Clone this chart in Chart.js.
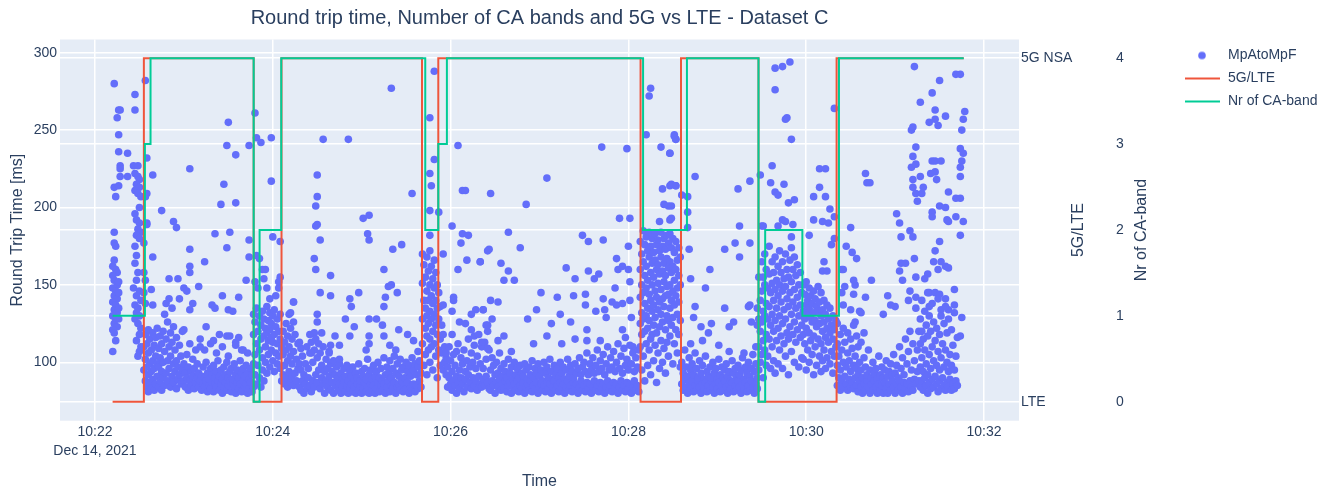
<!DOCTYPE html>
<html>
<head>
<meta charset="utf-8">
<title>Round trip time - Dataset C</title>
<script src="https://cdn.jsdelivr.net/npm/chart.js@4.4.1/dist/chart.umd.min.js"></script>
<style>
  html, body { margin: 0; padding: 0; background: #fff; }
</style>
</head>
<body>
<canvas id="rttChart" width="1336" height="493"></canvas>
<script>
// time axis: seconds after 10:22:00 (Dec 14, 2021)
const xTickValues = [0, 120, 240, 360, 480, 600];
const xTickLabels = ['10:22', '10:24', '10:26', '10:28', '10:30', '10:32'];
const xTickDate = 'Dec 14, 2021';
const rttTicks = [100, 150, 200, 250, 300];
const netTicks = [0, 1];
const netLabels = ['LTE', '5G NSA'];
const caTicks = [0, 1, 2, 3, 4];
const seriesNames = ['MpAtoMpF', '5G/LTE', 'Nr of CA-band'];

// 5G/LTE state changes (0 = LTE, 1 = 5G NSA)
const netTimes = [11.9, 33.0, 107.1, 125.9, 220.7, 231.7, 368.2, 395.5, 447.8, 500.5, 586.3];
const netValues = [0, 1, 0, 1, 0, 1, 0, 1, 0, 1, 1];

// number of CA bands changes
const caTimes = [11.9, 33.7, 37.5, 107.1, 111.1, 125.7, 222.9, 231.7, 237.5, 369.9, 399.5, 447.8, 452.3, 477.4, 502.1, 586.3];
const caValues = [1, 3, 4, 0, 2, 4, 2, 3, 4, 2, 4, 0, 2, 1, 4, 4];

// [seconds, round trip time ms]
const rttSamples = [
  [13,280],[16,263],[17,263],[15,258],[16,247],[16,236],[22,235],[17,227],[17,225],[17,220],[22,220],[13,213],[16,214],[14,207],[13,184],[13,177],[14,175],[13,166],[12,162],[14,160],[15,158],[12,156],[13,153],[15,150],[12,148],[14,146],[13,143],[15,141],[12,139],[14,137],[13,134],[15,132],[12,130],[14,128],[13,125],[15,123],[12,121],[13,119],[14,114],[12,107],[16,152],[16,145],[16,135],[16,128],
  [27,273],[27,263],[26,227],[29,227],[27,222],[29,220],[30,218],[28,215],[30,213],[27,211],[29,209],[31,207],[30,200],[27,196],[28,192],[30,190],[29,186],[31,184],[28,182],[30,180],[27,175],[28,169],[27,164],[29,158],[28,153],[26,148],[30,146],[28,143],[31,140],[27,137],[29,135],[28,132],[30,130],[27,128],[29,125],[31,122],[30,118],[28,114],[31,110],[30,107],[29,104],
  [34,282],[35,232],[34,207],[35,209],[35,190],[35,189],[33,177],[33,158],[34,153],[33,145],[34,138],
  [33,95],[33,110],[34,88],[34,102],[34,118],[35,84],[35,97],[35,112],[36,81],[36,92],[36,106],[36,121],[37,87],[37,99],[37,115],[38,83],[38,94],[38,108],[39,89],[39,101],[39,119],[40,82],[40,96],[40,111],[41,86],[41,104],[41,116],[42,91],[42,99],[42,122],[43,84],[43,97],[43,109],[44,88],[44,103],[44,117],[45,82],[45,94],[45,112],[46,90],[46,100],[46,120],[47,85],[47,107],[47,131],[48,93],[48,115],[48,138],[49,88],[49,101],[49,126],[50,96],[50,110],[50,141],[51,84],[51,104],[51,119],[52,91],[52,113],[52,135],[53,87],[53,99],[53,123],[54,94],[54,108],[55,83],[55,101],[55,116],[56,89],[56,97],[57,92],[57,111],[58,86],[58,104],[59,95],[59,120],[60,88],[60,99],
  [61,84],[61,93],[62,90],[62,105],[63,82],[63,97],[64,88],[64,112],[65,85],[65,94],[66,91],[66,102],[67,83],[67,96],[68,87],[68,108],[69,90],[69,99],[70,84],[70,93],[71,88],[71,115],
  [72,82],[72,91],[73,86],[73,97],[74,84],[74,90],[75,88],[75,100],[76,81],[76,93],[77,85],[77,89],[78,83],[78,96],[79,87],[79,92],[80,81],[80,98],[81,86],[81,90],[82,84],[82,94],[83,88],[83,101],[84,82],[84,91],[85,86],[85,95],[86,80],[86,89],[87,84],[87,97],[88,87],[88,92],[89,82],[89,100],[90,85],[90,90],[91,88],[91,94],[92,81],[92,96],[93,86],[93,89],[94,84],[94,99],[95,80],[95,92],[96,87],[96,95],[97,83],[97,90],[98,86],[98,101],[99,81],[99,93],[100,88],[100,96],[101,84],[101,91],[102,86],[102,98],[103,80],[103,93],[104,83],[104,89],[105,87],[105,96],[106,81],[106,92],[107,84],[107,99],
  [74,108],[78,112],[82,106],[86,110],[90,104],[95,113],[99,108],[103,106],[89,117],[97,116],
  [39,221],[45,198],[53,191],[55,187],[64,225],[64,173],[64,162],[64,158],[74,165],[39,168],[50,154],[56,154],[60,148],[62,146],[70,149],[57,141],[38,147],[39,137],[90,255],[89,240],[95,234],[87,215],[85,202],[95,203],[81,183],[91,184],[89,174],[108,261],[109,245],[104,240],[112,242],[119,245],[119,217],[104,179],[104,168],[109,169],[120,181],[125,178],[115,160],[114,154],[125,155],[124,148],[86,143],[97,142],[90,134],[93,133],[79,137],[81,135],[64,134],[66,138],[75,123],[102,153],[134,139],[131,131],
  [84,118],[91,117],[80,114],[95,111],[100,108],[71,110],[60,121],
  [107,118],[107,131],[108,92],[108,105],[108,126],[109,86],[109,112],[109,135],[110,98],[110,120],[111,90],[111,108],[111,130],[112,84],[112,115],[112,124],[113,95],[113,103],[113,133],[114,88],[114,117],[114,128],[115,100],[115,110],[115,122],[116,93],[116,119],[116,136],[117,105],[117,114],[117,127],[118,97],[118,121],[118,132],[119,108],[119,116],[119,125],[120,101],[120,113],[120,130],[121,94],[121,118],[121,134],[122,106],[122,123],[123,99],[123,112],[123,128],[124,104],[124,120],[125,96],[125,115],[125,131],[126,109],[126,88],
  [110,148],[113,160],[108,152],[111,167],[116,148],[122,143],[124,152],[118,141],
  [200,277],[154,244],[171,244],[150,221],[150,207],[149,201],[150,189],[149,188],[152,179],[148,167],[149,160],[159,156],[152,145],[159,143],[134,139],[172,141],[173,136],[178,145],[169,128],[175,123],[172,117],[162,117],[159,111],[165,111],[181,193],[185,195],[184,183],[185,179],[195,160],[198,149],[200,150],[196,142],[195,136],[204,145],[201,173],[207,176],[214,209],[185,128],[190,128],[194,124],[195,117],[185,117],[211,118],[215,114],[199,111],[203,108],[150,131],[150,126],[145,118],[148,119],[153,119],[139,109],[132,132],[134,126],
  [127,92],[127,105],[127,120],[128,86],[128,98],[128,113],[129,90],[129,108],[129,125],[130,84],[130,101],[130,117],[131,94],[131,110],[132,87],[132,104],[132,122],[133,91],[133,99],[133,115],[134,85],[134,107],[135,93],[135,118],[136,88],[136,102],[137,96],[137,112],[138,84],[138,99],
  [139,82],[139,95],[140,88],[140,104],[141,80],[141,92],[142,86],[142,99],[143,83],[143,110],[144,90],[144,96],[145,85],[145,106],[146,81],[146,113],[147,88],[147,100],[148,84],[148,108],[149,92],[149,115],[150,87],[150,103],[151,95],[151,112],[152,83],[152,106],[153,90],[153,98],[154,86],[154,110],[155,80],[155,94],[156,88],[156,102],[157,84],[157,96],[158,91],[158,107],[159,82],[159,99],[160,87],[160,94],[161,80],[161,101],[162,85],[162,92],[163,88],[163,97],[164,82],[164,90],[165,86],[165,99],[166,80],[166,93],[167,84],[167,89],[168,87],[168,96],[169,81],[169,91],[170,85],[170,98],[171,80],[171,88],[172,83],[172,94],[173,86],[173,91],[174,81],[174,97],[175,84],[175,89],[176,80],[176,93],[177,86],[177,90],[178,82],[178,99],[179,85],[179,88],[180,80],[180,94],[181,83],[181,91],[182,87],[182,96],[183,81],[183,89],[184,84],[184,102],[185,80],[185,92],[186,86],[186,95],[187,82],[187,89],[188,85],[188,98],[189,80],[189,91],[190,83],[190,94],[191,87],[191,100],[192,81],[192,90],[193,85],[193,96],[194,82],[194,88],[195,86],[195,103],[196,80],[196,92],[197,84],[197,97],[198,88],[198,93],[199,81],[199,101],[200,85],[200,90],[201,83],[201,96],[202,87],[202,104],[203,80],[203,93],[204,84],[204,99],[205,86],[205,91],[206,82],[206,102],[207,88],[207,95],[208,81],[208,97],[209,85],[209,90],[210,83],[210,100],[211,87],[211,94],[212,80],[212,98],[213,84],[213,91],[214,82],[214,103],[215,86],[215,95],[216,81],[216,99],[217,85],[217,92],[218,83],[218,97],[219,88],[219,101],[220,84],[220,93],
  [138,113],[146,106],[158,106],[165,102],[183,108],[185,112],[205,121],[218,107],
  [229,288],[226,258],[229,231],[226,222],[227,214],[226,198],[232,197],[226,182],
  [221,170],[222,163],[221,151],[222,140],[221,128],[221,112],[222,98],[223,155],[223,135],[223,122],[223,105],[224,168],[224,146],[224,130],[224,117],[224,92],[225,159],[225,140],[225,125],[225,108],[226,172],[226,150],[226,133],[226,115],[226,100],[227,162],[227,143],[227,128],[227,110],[228,154],[228,138],[228,120],[228,95],[229,166],[229,148],[229,131],[229,112],[230,158],[230,140],[230,124],[230,104],[231,150],[231,135],[231,118],[231,90],[232,145],[232,128],[232,108],[233,136],[233,115],[233,98],[234,124],[234,106],[235,118],[235,95],[236,110],[236,100],[237,103],[237,92],
  [235,170],[245,240],[241,188],[248,211],[250,211],[248,183],[252,182],[247,177],[251,166],[245,160],[260,165],[265,172],[235,137],[242,142],[242,140],[241,133],[257,134],[262,134],[254,131],[246,126],[250,125],[254,121],[265,124],[241,118],[256,117],[262,112],[237,106],[244,107],
  [238,84],[238,97],[239,90],[239,110],[240,86],[240,101],[241,82],[241,94],[242,88],[242,105],[243,85],[243,98],[244,91],[244,80],[245,87],[245,112],[246,83],[246,95],[247,90],[247,103],[248,86],[248,99],[249,81],[249,108],[250,89],[250,94],[251,84],[251,101],[252,92],[252,115],[253,87],[253,97],[254,83],[254,106],[255,90],[255,100],[256,85],[256,111],[257,88],[257,96],[258,82],[258,104],[259,91],[259,118],[260,86],[260,99],[261,84],[261,110],[262,89],[262,96],[263,85],[263,113],[264,91],[264,102],[265,87],[265,120],[266,83],[266,108],
  [375,277],[374,272],[372,247],[391,246],[382,239],[388,235],[392,244],[342,239],[359,238],[305,219],[267,209],[291,202],[354,193],[361,193],[383,212],[388,214],[392,214],[384,202],[387,201],[381,191],[388,192],[279,184],[329,182],[333,178],[343,179],[360,175],[266,173],[287,174],[260,165],[274,164],[279,159],[276,153],[283,153],[318,161],[324,154],[333,159],[337,154],[340,157],[352,167],[353,160],[356,162],[360,160],[361,152],[351,148],[301,145],[312,142],[323,143],[331,144],[343,141],[349,139],[352,137],[356,138],[361,140],[267,140],[272,139],[262,134],[298,134],[314,131],[331,137],[344,134],[338,133],[362,129],[268,128],[264,124],[292,128],[308,125],[321,126],[345,129],[272,114],[276,117],[281,107],[296,112],[305,117],[315,112],[324,115],[332,121],[332,114],[341,114],[356,121],[358,116],[363,110],[261,113],[265,109],
  [267,82],[267,95],[268,88],[268,103],[269,85],[269,98],[270,80],[270,92],[271,87],[271,100],[272,84],[272,93],[273,89],[273,106],[274,82],[274,96],[275,86],[275,91],[276,83],[276,99],[277,88],[277,94],[278,81],[278,90],[279,85],[279,102],[280,87],[280,93],[281,80],[281,97],[282,84],[282,89],[283,86],[283,100],[284,82],[284,92],[285,88],[285,96],[286,81],[286,90],[287,85],[287,98],[288,83],[288,93],[289,87],[289,91],[290,80],[290,99],[291,84],[291,95],[292,86],[292,89],[293,82],[293,97],[294,88],[294,92],[295,81],[295,101],[296,85],[296,90],[297,83],[297,96],[298,87],[298,93],[299,80],[299,99],[300,84],[300,91],[301,86],[301,95],[302,82],[302,88],[303,85],[303,100],[304,81],[304,93],[305,87],[305,97],[306,83],[306,90],[307,86],[307,102],[308,80],[308,94],[309,84],[309,89],[310,88],[310,98],[311,82],[311,92],[312,85],[312,96],[313,81],[313,90],[314,87],[314,100],[315,83],[315,93],[316,86],[316,97],[317,80],[317,89],[318,84],[318,95],[319,88],[319,102],[320,82],[320,91],[321,85],[321,98],[322,81],[322,94],[323,87],[323,90],[324,83],[324,99],[325,86],[325,93],[326,80],[326,96],[327,84],[327,103],[328,88],[328,92],[329,82],[329,97],[330,85],[330,100],[331,81],[331,94],[332,87],[332,106],[333,83],[333,92],[334,86],[334,99],[335,80],[335,95],[336,84],[336,103],[337,88],[337,93],[338,82],[338,98],[339,85],[339,108],[340,81],[340,94],[341,87],[341,101],[342,83],[342,96],[343,86],[343,105],[344,80],[344,92],[345,84],[345,99],[346,88],[346,110],[347,82],[347,95],[348,85],[348,103],[349,81],[349,97],[350,87],[350,107],[351,83],[351,94],[352,86],[352,100],[353,80],[353,112],[354,84],[354,96],[355,88],[355,104],[356,82],[356,93],[357,85],[357,109],[358,81],[358,98],[359,87],[359,102],[360,83],[360,95],[361,86],[361,111],[362,80],[362,99],[363,84],[363,106],[364,88],[364,94],[365,82],[365,103],[366,85],[366,97],[367,81],[367,108],
  [368,178],[368,160],[368,142],[368,125],[368,110],[369,170],[369,150],[369,132],[369,118],[369,95],[370,185],[370,165],[370,145],[370,128],[370,104],[371,176],[371,156],[371,138],[371,120],[371,88],[372,181],[372,162],[372,148],[372,130],[372,112],[373,172],[373,153],[373,135],[373,122],[373,98],[374,184],[374,168],[374,144],[374,127],[374,108],[375,175],[375,158],[375,140],[375,115],[375,92],[376,180],[376,164],[376,150],[376,133],[376,118],[377,171],[377,155],[377,137],[377,124],[377,101],[378,183],[378,166],[378,146],[378,129],[378,111],[379,176],[379,160],[379,142],[379,119],[379,87],[380,179],[380,163],[380,151],[380,134],[380,106],[381,172],[381,157],[381,139],[381,123],[381,96],[382,184],[382,168],[382,147],[382,131],[382,114],[383,175],[383,159],[383,141],[383,126],[383,100],[384,180],[384,164],[384,152],[384,136],[384,109],[385,173],[385,156],[385,143],[385,121],[385,93],[386,182],[386,167],[386,149],[386,130],[386,113],[387,177],[387,161],[387,144],[387,127],[387,104],[388,183],[388,165],[388,150],[388,135],[388,117],[389,174],[389,158],[389,140],[389,124],[390,180],[390,162],[390,146],[390,129],[390,99],[391,171],[391,153],[391,137],[391,112],[392,178],[392,160],[392,143],[392,121],[393,166],[393,148],[393,131],[393,106],[394,174],[394,156],[394,139],[394,118],[395,168],[395,150],[395,127],[395,97],
  [391,247],[392,244],[388,235],[389,215],[392,214],[396,208],[400,207],[400,197],[400,187],[389,201],[389,193],[405,220],[401,173],[415,160],[402,154],[412,148],[405,136],[425,135],[434,212],[442,217],[449,221],[435,188],[432,177],[442,177],[425,173],[435,168],[441,136],[442,137],[428,123],[431,126],[416,125],[443,126],[404,129],[409,123],[414,119],[402,112],[410,114],[421,111],[428,107],[438,106],[446,110],[447,124],[447,135],[448,155],[450,188],
  [396,86],[396,100],[397,82],[397,93],[398,89],[398,108],[399,84],[399,97],[400,80],[400,91],[401,87],[401,103],[402,83],[402,95],[403,88],[403,99],[404,81],[404,92],[405,85],[405,106],[406,82],[406,96],[407,88],[407,90],[408,84],[408,101],[409,80],[409,93],[410,86],[410,98],[411,83],[411,89],[412,87],[412,104],[413,81],[413,94],[414,85],[414,91],[415,82],[415,97],[416,88],[416,90],[417,84],[417,100],[418,80],[418,93],[419,86],[419,96],[420,83],[420,89],[421,87],[421,102],[422,81],[422,92],[423,85],[423,97],[424,82],[424,90],[425,88],[425,95],[426,84],[426,99],[427,80],[427,91],[428,86],[428,94],[429,83],[429,88],[430,87],[430,101],[431,81],[431,93],[432,85],[432,96],[433,82],[433,90],[434,88],[434,98],[435,84],[435,92],[436,80],[436,95],[437,86],[437,103],[438,83],[438,89],[439,87],[439,97],[440,81],[440,93],[441,85],[441,100],[442,82],[442,91],[443,88],[443,96],[444,84],[444,105],[445,80],[445,94],[446,86],[446,99],[447,83],[447,90],
  [459,290],[464,291],[469,294],[459,276],[466,257],[467,258],[470,244],[457,227],[456,216],[465,215],[459,210],[461,208],[468,203],[472,205],[464,192],[466,191],[471,189],[470,181],[461,188],[451,188],[482,182],[489,225],[493,225],[489,213],[485,207],[493,207],[496,199],[485,192],[491,191],[495,190],[499,194],[497,176],[492,165],[491,159],[494,159],[499,180],[499,264],
  [448,128],[448,110],[448,95],[449,140],[449,120],[449,100],[450,165],[450,146],[450,126],[450,105],[451,155],[451,133],[451,114],[451,90],[452,170],[452,150],[452,130],[452,108],[453,160],[453,138],[453,118],[453,98],[454,148],[454,128],[454,104],[455,175],[455,157],[455,136],[455,115],[456,145],[456,124],[456,96],[457,165],[457,151],[457,131],[457,110],[458,158],[458,140],[458,120],[458,101],[459,168],[459,147],[459,127],[459,93],[460,153],[460,135],[460,114],[461,162],[461,143],[461,122],[461,99],[462,172],[462,150],[462,130],[462,108],[463,158],[463,139],[463,117],[464,165],[464,146],[464,125],[464,96],[465,154],[465,134],[465,112],[466,170],[466,149],[466,128],[466,104],[467,160],[467,141],[467,119],[468,155],[468,136],[468,115],[468,92],[469,166],[469,145],[469,123],[470,174],[470,152],[470,131],[470,107],[471,160],[471,139],[471,118],[472,168],[472,147],[472,126],[472,100],[473,156],[473,135],[473,113],[474,163],[474,142],[474,121],[475,150],[475,130],[475,97],[476,158],[476,137],[476,116],[477,145],[477,124],[477,103],
  [478,150],[478,133],[478,118],[478,102],[479,144],[479,128],[479,112],[480,152],[480,137],[480,122],[480,95],[481,140],[481,131],[481,108],[482,148],[482,135],[482,119],[482,100],[483,143],[483,129],[483,114],[484,138],[484,126],[484,105],[485,146],[485,132],[485,117],[485,92],[486,141],[486,127],[486,110],[487,136],[487,123],[487,98],[488,149],[488,133],[488,115],[489,139],[489,125],[489,104],[490,145],[490,130],[490,112],[490,94],[491,134],[491,120],[491,101],[492,140],[492,126],[492,108],[493,131],[493,116],[493,96],[494,137],[494,122],[494,103],[495,128],[495,113],[496,135],[496,119],[496,99],[497,124],[497,107],[498,130],[498,115],[498,93],[499,121],[499,104],[500,127],[500,110],
  [510,187],[507,175],[511,171],[514,167],[520,222],[521,216],[504,160],[506,149],[513,150],[520,142],[505,137],[510,134],[517,132],[501,125],[513,126],[519,119],
  [523,216],[541,196],[543,190],[544,181],[550,185],[552,181],[553,167],[544,164],[547,164],[543,159],[545,153],[554,155],[550,146],[554,142],[549,140],[554,135],[535,143],[540,136],[537,137],[532,131],[524,153],[516,133],[512,153],[512,144],[505,160],[504,145],
  [553,291],[551,250],[552,252],[554,239],[552,233],[551,226],[554,228],[552,218],[552,213],[554,209],[555,204],[557,220],[559,213],[558,209],[557,268],[565,274],[570,282],[567,263],[567,257],[563,255],[569,253],[574,259],[581,286],[584,286],[587,262],[586,257],[585,250],[584,238],[586,235],[585,230],[584,226],[584,220],[581,206],[584,206],[581,194],[586,191],[584,182],[565,230],[567,230],[571,230],[564,222],[567,223],[568,218],[576,210],[565,197],[570,201],[574,200],[565,194],[575,192],[576,191],[570,178],[567,172],[566,165],[571,165],[574,162],[576,161],[569,160],[562,157],[560,154],[580,147],[563,145],[567,145],[570,144],[574,141],[563,136],[571,134],[580,137],[585,129],[584,117],[576,134],
  [501,85],[501,98],[501,112],[502,90],[502,104],[503,82],[503,95],[503,118],[504,88],[504,108],[505,84],[505,100],[505,122],[506,91],[506,113],[507,86],[507,97],[508,82],[508,106],[508,119],[509,89],[509,101],[510,84],[510,94],[510,115],[511,87],[511,109],[512,83],[512,98],[512,124],[513,90],[513,104],[514,85],[514,96],[514,117],[515,81],[515,92],[515,110],[516,88],[516,100],[517,84],[517,95],[517,113],[518,80],[518,90],[519,86],[519,103],[520,82],[520,97],[521,88],[521,92],[522,84],[522,108],[523,80],[523,95],[524,86],[524,90],[525,82],[525,100],[526,88],[526,93],[527,84],[527,96],[528,80],[528,89],[529,86],[529,104],[530,82],[530,92],[531,85],[531,97],[532,80],[532,90],[533,87],[533,95],[534,83],[534,101],[535,80],[535,91],[536,86],[536,94],[537,82],[537,99],[538,88],[538,92],[539,84],[539,105],[540,80],[540,93],[541,86],[541,98],[542,82],[542,90],[543,88],[543,110],[544,84],[544,96],[545,80],[545,103],[546,87],[546,92],[547,83],[547,115],[548,86],[548,99],[549,81],[549,107],[550,88],[550,120],[551,84],[551,95],[552,82],[552,112],[553,89],[553,101],
  [554,86],[555,94],[556,88],[555,108],[556,120],
  [557,84],[557,97],[557,112],[557,128],[558,88],[558,103],[558,120],[558,140],[559,82],[559,94],[559,115],[560,90],[560,108],[560,133],[561,85],[561,99],[561,124],[562,80],[562,92],[562,117],[562,145],[563,87],[563,105],[563,130],[564,83],[564,96],[564,120],[565,89],[565,110],[565,138],[566,84],[566,101],[566,126],[567,91],[567,114],[568,86],[568,98],[568,122],[569,81],[569,107],[569,141],[570,88],[570,95],[570,118],[571,83],[571,103],[571,130],[572,90],[572,112],[573,85],[573,97],[573,125],[574,82],[574,108],[574,136],[575,87],[575,100],[575,119],[576,84],[576,94],[576,128],[577,89],[577,105],[578,82],[578,98],[578,121],[579,86],[579,111],[580,83],[580,95],[580,132],[581,88],[581,104],[582,85],[582,116]
];

const fontFamily = '"Liberation Sans", Arial, sans-serif';
const textColor = '#2a3f5f';
Chart.defaults.font.family = fontFamily;
Chart.defaults.color = textColor;

// legend symbols: a dot for the samples, a short line for the step traces
function legendIcon(kind, color) {
    const c = document.createElement('canvas');
    c.width = 36;
    c.height = 12;
    const g = c.getContext('2d');
    if (kind === 'dot') {
        g.fillStyle = color;
        g.beginPath();
        g.arc(17, 6, 3.8, 0, Math.PI * 2);
        g.fill();
    } else {
        g.strokeStyle = color;
        g.lineWidth = 2;
        g.beginPath();
        g.moveTo(0, 6);
        g.lineTo(35, 6);
        g.stroke();
    }
    return c;
}
const legendIcons = [legendIcon('dot', '#636EFA'), legendIcon('line', '#EF553B'), legendIcon('line', '#00CC96')];

// keep the plot area where the reference has it: legend width decides the right padding
const meas = document.createElement('canvas').getContext('2d');
meas.font = '14px ' + fontFamily;
const legendTextW = Math.max(...seriesNames.map(n => meas.measureText(n).width));
const legendW = 9 + 36 + 7 + legendTextW + 10;
const padRight = Math.max(0, 1336 - 1019 - 80 - 77 - legendW);

const plotFrame = {
    id: 'plotFrame',
    beforeDraw(chart) {
        const { ctx, chartArea: a } = chart;
        ctx.save();
        ctx.fillStyle = '#E5ECF6';
        ctx.fillRect(a.left, a.top, a.right - a.left, a.bottom - a.top);
        ctx.restore();
    },
    afterDraw(chart) {
        // right axis titles read bottom-to-top like the left one
        const { ctx, chartArea: a } = chart;
        const midY = (a.top + a.bottom) / 2;
        ctx.save();
        ctx.fillStyle = textColor;
        ctx.font = '16px ' + fontFamily;
        ctx.textAlign = 'center';
        ctx.textBaseline = 'middle';
        [['y2', '5G/LTE', 60], ['y3', 'Nr of CA-band', 43]].forEach(([id, text, off]) => {
            const s = chart.scales[id];
            ctx.save();
            ctx.translate(s.left + off, midY);
            ctx.rotate(-Math.PI / 2);
            ctx.fillText(text, 0, 0);
            ctx.restore();
        });
        ctx.restore();
    }
};

const gridWhite = { color: '#ffffff', lineWidth: 1.5, drawTicks: false };

new Chart(document.getElementById('rttChart'), {
    type: 'scatter',
    data: {
        datasets: [{
            label: seriesNames[0],
            data: rttSamples.map(([x, y]) => ({ x, y })),
            backgroundColor: '#636EFA',
            borderWidth: 0,
            pointRadius: 3.8,
            pointHoverRadius: 3.8,
            yAxisID: 'y',
            order: 3
        }, {
            type: 'line',
            label: seriesNames[1],
            data: netTimes.map((x, i) => ({ x, y: netValues[i] })),
            borderColor: '#EF553B',
            backgroundColor: '#EF553B',
            borderWidth: 2,
            pointRadius: 0,
            stepped: true,
            fill: false,
            yAxisID: 'y2',
            order: 2
        }, {
            type: 'line',
            label: seriesNames[2],
            data: caTimes.map((x, i) => ({ x, y: caValues[i] })),
            borderColor: '#00CC96',
            backgroundColor: '#00CC96',
            borderWidth: 2,
            pointRadius: 0,
            stepped: true,
            fill: false,
            yAxisID: 'y3',
            order: 1
        }]
    },
    options: {
        responsive: false,
        animation: false,
        devicePixelRatio: 1,
        layout: { padding: { left: 0, top: 0, bottom: 0, right: padRight } },
        scales: {
            x: {
                type: 'linear',
                min: -23.6,
                max: 623.6,
                afterBuildTicks: s => { s.ticks = xTickValues.map(v => ({ value: v })); },
                afterFit: s => { s.height = 72.3; },
                ticks: {
                    autoSkip: false,
                    maxRotation: 0,
                    padding: 2,
                    font: { size: 14, lineHeight: 1.35 },
                    callback: (v) => {
                        const i = xTickValues.indexOf(v);
                        return i === 0 ? [xTickLabels[i], xTickDate] : xTickLabels[i];
                    }
                },
                grid: gridWhite,
                border: { display: false },
                title: { display: true, text: 'Time', font: { size: 16 }, padding: { top: 0, bottom: 1.4 } }
            },
            y: {
                position: 'left',
                min: 62.3,
                max: 308.5,
                afterBuildTicks: s => { s.ticks = rttTicks.map(v => ({ value: v })); },
                afterFit: s => { s.width = 60; },
                ticks: { padding: 3, font: { size: 14 } },
                grid: gridWhite,
                border: { display: false },
                title: { display: true, text: 'Round Trip Time [ms]', font: { size: 16 }, padding: { top: 8.4, bottom: 0 } }
            },
            y2: {
                position: 'right',
                weight: 1,
                min: -0.0553,
                max: 1.0543,
                afterBuildTicks: s => { s.ticks = netTicks.map(v => ({ value: v })); },
                afterFit: s => { s.width = 80; },
                ticks: { padding: 2, font: { size: 14 }, callback: v => netLabels[netTicks.indexOf(v)] },
                grid: { display: false, drawTicks: false },
                border: { display: false }
            },
            y3: {
                position: 'right',
                weight: 2,
                min: -0.221,
                max: 4.217,
                afterBuildTicks: s => { s.ticks = caTicks.map(v => ({ value: v })); },
                afterFit: s => { s.width = 77; },
                ticks: { padding: 17, font: { size: 14 } },
                grid: gridWhite,
                border: { display: false }
            }
        },
        plugins: {
            title: {
                display: true,
                text: 'Round trip time, Number of CA bands and 5G vs LTE - Dataset C',
                fullSize: false,
                color: textColor,
                font: { size: 20, weight: 'normal' },
                padding: { top: 6, bottom: 9.5 }
            },
            legend: {
                position: 'right',
                align: 'start',
                fullSize: false,
                labels: {
                    usePointStyle: true,
                    pointStyleWidth: 36,
                    padding: 9,
                    color: textColor,
                    font: { size: 14 },
                    sort: (a, b) => a.datasetIndex - b.datasetIndex,
                    generateLabels: chart => {
                        const items = Chart.defaults.plugins.legend.labels.generateLabels(chart);
                        items.forEach(it => { it.pointStyle = legendIcons[it.datasetIndex]; });
                        return items;
                    }
                }
            },
            tooltip: { enabled: false }
        }
    },
    plugins: [plotFrame]
});
</script>
</body>
</html>
